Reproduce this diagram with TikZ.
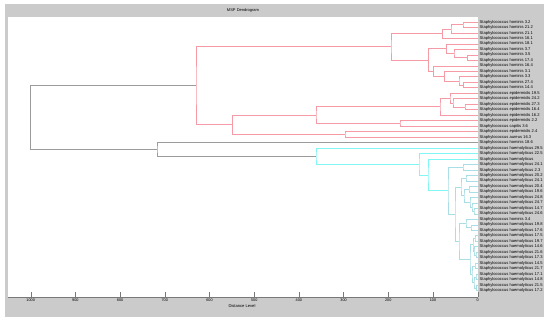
\documentclass[tikz,border=0pt]{standalone}
\usepackage{fontspec}
\setmainfont{Liberation Sans}
\usetikzlibrary{calc}
\definecolor{framegray}{RGB}{203,203,203}
\definecolor{axisgray}{RGB}{120,120,120}
\definecolor{linkgray}{RGB}{155,155,155}
\definecolor{linkred}{RGB}{246,155,165}
\definecolor{linkcyan}{RGB}{130,245,245}
\definecolor{linkcyanb}{RGB}{170,222,230}
\tikzset{
  redl/.style={draw=linkred,line width=0.65pt},
  cyal/.style={draw=linkcyan,line width=0.65pt},
  cybl/.style={draw=linkcyanb,line width=0.5pt},
  gryl/.style={draw=linkgray,line width=0.6pt},
  lbl/.style={anchor=west,inner sep=0pt,xshift=1.5pt,font=\fontsize{4.1}{5}\selectfont,text=black},
  ticklbl/.style={inner sep=0pt,font=\fontsize{3.8}{5}\selectfont,text=black},
}
\newcommand\joinlink[5][redl]{%
  \coordinate (m#2) at ($(#4)!0.5!(#5)$);
  \coordinate (#2) at (#3,0 |- m#2);
  \draw[#1] (#4) -| (#2) |- (#5);}
\begin{document}
\begin{tikzpicture}[x=1pt,y=-1pt]
\useasboundingbox (0,0) rectangle (550,324);
\fill[white] (0,0) rectangle (550,324);
\fill[framegray] (5,4) rectangle (544,317);
\fill[white] (8,17) rectangle (478,297);
\node[inner sep=0pt,font=\fontsize{4}{5}\selectfont] (title) at (243,10.5) {MSP Dendrogram};
% axis
\coordinate (axL) at (8,297);
\coordinate (axR) at (478,297);
\draw[axisgray,line width=0.5pt] (axL) -- (axR);
\foreach \k in {0,...,10}{
  \coordinate (tk\k) at ({477.7-44.7*\k},297);
  \draw[axisgray,line width=0.4pt] (tk\k) -- ++(0,-5);
}
\foreach \k/\v in {0/0,1/100,2/200,3/300,4/400,5/500,6/600,7/700,8/800,9/900,10/1000}{
  \node[ticklbl] (tl\k) at ($(tk\k)+(0,3.5)$) {\v};
}
\node[inner sep=0pt,font=\fontsize{4.1}{5}\selectfont] (xlabel) at (242,305.6) {Distance Level};
% leaves
\foreach \i/\t in {1/hominis 3.2,2/hominis 21.2,3/hominis 21.1,4/hominis 16.1,5/hominis 18.1,
 6/hominis 3.7,7/hominis 3.5,8/hominis 17.4,9/hominis 16.4,10/hominis 3.1,
 11/hominis 3.3,12/hominis 27.4,13/hominis 14.4,14/epidermidis 19.5,15/epidermidis 24.2,
 16/epidermidis 27.3,17/epidermidis 16.4,18/epidermidis 16.2,19/epidermidis 2.2,20/capitis 3.6,
 21/epidermidis 2.4,22/aureus 16.3,23/hominis 18.6,24/haemolyticus 29.5,25/haemolyticus 22.5,
 26/haemolyticus,27/haemolyticus 24.1,28/haemolyticus 2.3,29/haemolyticus 20.2,30/haemolyticus 24.1,
 31/haemolyticus 20.4,32/haemolyticus 19.6,33/haemolyticus 24.8,34/haemolyticus 24.7,35/haemolyticus 14.7,
 36/haemolyticus 24.6,37/hominis 3.4,38/haemolyticus 19.8,39/haemolyticus 17.6,40/haemolyticus 17.5,
 41/haemolyticus 19.7,42/haemolyticus 14.6,43/haemolyticus 21.6,44/haemolyticus 17.3,45/haemolyticus 14.5,
 46/haemolyticus 21.7,47/haemolyticus 17.1,48/haemolyticus 14.8,49/haemolyticus 21.5,50/haemolyticus 17.2}{
  \coordinate (l\i) at (478,{22+(\i-1)*5.48});
  \node[lbl] (t\i) at (l\i) {Staphylococcus \t};
}
% red cluster
\joinlink{Ra}{463}{l1}{l2}
\joinlink{Rb}{451}{Ra}{l3}
\joinlink{Rc}{442.7}{Rb}{l4}
\joinlink{Rd}{467.3}{l7}{l8}
\joinlink{Re}{454}{l6}{Rd}
\joinlink{Rf}{446.7}{l5}{Re}
\joinlink{Rg}{463.3}{l12}{l13}
\joinlink{Rh}{459}{l11}{Rg}
\joinlink{Ri}{444.3}{l10}{Rh}
\joinlink{Rj}{433.3}{l9}{Ri}
\joinlink{Rk}{428.3}{Rf}{Rj}
\joinlink{RA}{391}{Rc}{Rk}
\joinlink{Rn}{465}{l16}{l17}
\joinlink{Rm}{453}{l15}{Rn}
\joinlink{Rl}{450}{l14}{Rm}
\joinlink{RE}{440}{Rl}{l18}
\joinlink{RF}{400}{l19}{l20}
\joinlink{RC}{316}{RE}{RF}
\joinlink{RD}{345}{l21}{l22}
\joinlink{RB}{232.3}{RC}{RD}
\joinlink{R0}{196}{RA}{RB}
% cyan cluster
\joinlink[cybl]{Ca}{463}{l27}{l28}
\joinlink[cybl]{Cb}{466}{l29}{l30}
\joinlink[cybl]{Cc}{469}{l31}{l32}
\joinlink[cybl]{Cd}{474}{l35}{l36}
\joinlink[cybl]{Ce}{472}{l34}{Cd}
\joinlink[cybl]{Cf}{470}{l33}{Ce}
\joinlink[cybl]{Cg}{464}{Cc}{Cf}
\joinlink[cybl]{Ch}{461}{Cb}{Cg}
\joinlink[cybl]{Ci}{471}{l38}{l39}
\joinlink[cybl]{Cj}{466}{l37}{Ci}
\joinlink[cybl]{Ck}{475}{l40}{l41}
\joinlink[cybl]{Cl}{476}{l43}{l44}
\joinlink[cybl]{Cm}{474}{l42}{Cl}
\joinlink[cybl]{Cn}{473}{Ck}{Cm}
\joinlink[cybl]{Co}{475}{l45}{l46}
\joinlink[cybl]{Cp}{476}{l47}{l48}
\joinlink[cybl]{Cq}{476.5}{l49}{l50}
\joinlink[cybl]{Cr}{474}{Cp}{Cq}
\joinlink[cybl]{Cs}{472}{Co}{Cr}
\joinlink[cybl]{Ct}{470}{Cn}{Cs}
\joinlink[cybl]{Cu}{459}{Cj}{Ct}
\joinlink[cybl]{Cv}{455}{Ch}{Cu}
\joinlink[cybl]{Cw}{448}{Ca}{Cv}
\joinlink[cyal]{C2}{428}{l26}{Cw}
\joinlink[cyal]{C1}{419}{l25}{C2}
\joinlink[cyal]{C0}{316}{l24}{C1}
% gray links
\joinlink[gryl]{G}{157}{l23}{C0}
\joinlink[gryl]{root}{30.7}{R0}{G}
\end{tikzpicture}
\end{document}
